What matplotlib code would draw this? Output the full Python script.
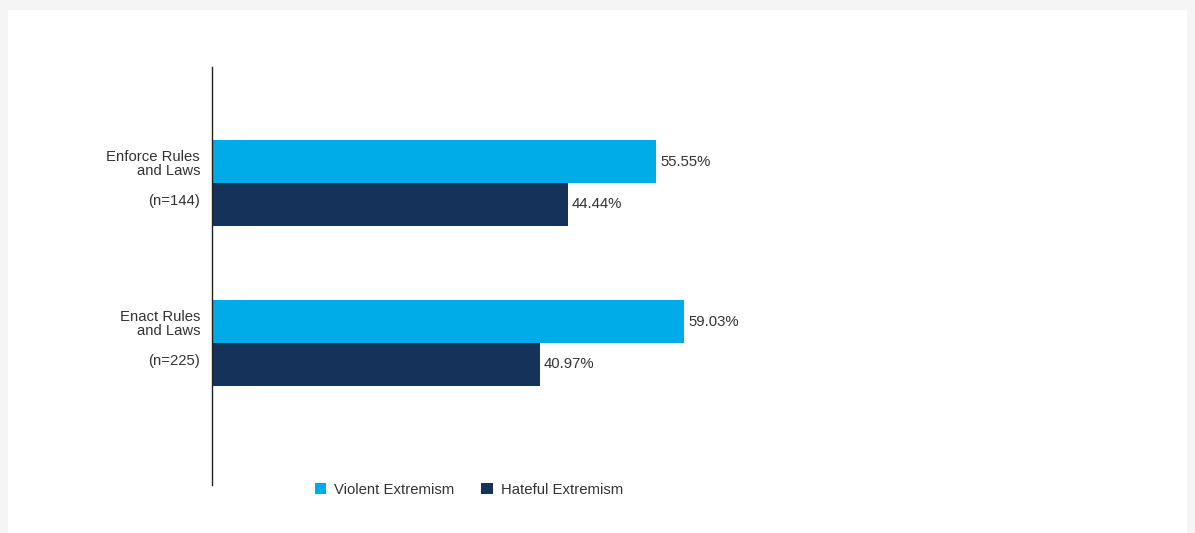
import matplotlib
import numpy as np

matplotlib.use("Agg")
import matplotlib.pyplot as plt  # noqa: E402
from matplotlib.patches import Rectangle  # noqa: E402

plt.rcParams.update({"font.family": ["Liberation Sans", "DejaVu Sans"],
                     "font.size": 10.7, "text.color": "#333333"})

# actions and respondent counts
actions = ["Enforce Rules\nand Laws", "Enact Rules\nand Laws"]
counts = [144, 225]
violent = [55.55, 59.03]
hateful = [44.44, 40.97]
series = ["Violent Extremism", "Hateful Extremism"]

C_VIOLENT = "#00ACE8"
C_HATEFUL = "#15325A"
W, H = 1195, 533

fig = plt.figure(figsize=(W / 100, H / 100), dpi=100, facecolor="#F5F5F5")
fig.patches.append(Rectangle((8 / W, 0), (1187 - 8) / W, (H - 10) / H,
                             transform=fig.transFigure, facecolor="white",
                             edgecolor="none", zorder=-10))

ax = fig.add_axes([212 / W, (H - 485) / H, 800 / W, (485 - 67) / H])
ax.set_facecolor("none")

y = np.arange(len(actions))
bh = 43 / 160
ax.barh(y - bh / 2, violent, height=bh, color=C_VIOLENT, label=series[0])
ax.barh(y + bh / 2, hateful, height=bh, color=C_HATEFUL, label=series[1])

for yi, v, h in zip(y, violent, hateful):
    ax.annotate(f"{v:.2f}%", xy=(v, yi - bh / 2), xytext=(4, 0),
                textcoords="offset pixels", va="center", ha="left")
    ax.annotate(f"{h:.2f}%", xy=(h, yi + bh / 2), xytext=(4, 0),
                textcoords="offset pixels", va="center", ha="left")

# category labels sit left of the spine, in pixel offsets from the group centre
for yi, name, n in zip(y, actions, counts):
    ax.annotate(name, xy=(0, yi), xytext=(-12, 19), textcoords="offset pixels",
                ha="right", va="center", linespacing=0.92)
    ax.annotate(f"(n={n})", xy=(0, yi), xytext=(-12, -18),
                textcoords="offset pixels", ha="right", va="center")

ax.set_xlim(0, 100)
ax.set_ylim(1 + 142 / 160, -116 / 160)
ax.set_xticks([])
ax.set_yticks([])
for s in ("top", "right", "bottom"):
    ax.spines[s].set_visible(False)
ax.spines["left"].set_color("#222222")
ax.spines["left"].set_linewidth(1.0)

fig.legend(loc="center", bbox_to_anchor=(469 / W, (H - 490) / H), ncol=2,
           frameon=False, handlelength=0.75, handleheight=0.75,
           handletextpad=0.55, columnspacing=1.8, fontsize=10.7)

fig.savefig("out.png", dpi=100, facecolor=fig.get_facecolor())
